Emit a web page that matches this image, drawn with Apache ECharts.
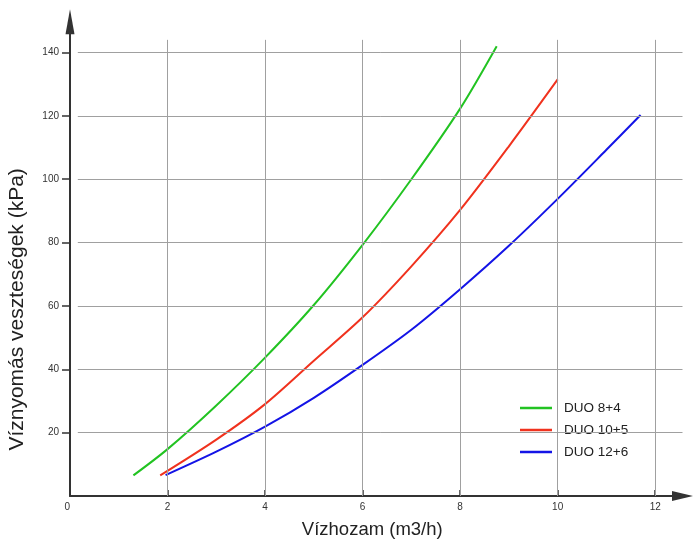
<!DOCTYPE html>
<html>
<head>
<meta charset="utf-8">
<script src="https://cdn.jsdelivr.net/npm/echarts@6/dist/echarts.min.js"></script>
<style>
  html, body { margin: 0; padding: 0; background: #fff; }
  #chart { width: 693px; height: 541px; }
</style>
</head>
<body>
<div id="chart"></div>
<script>
// flow (m3/h) / pressure loss (kPa) pairs
const duo8x4 = [[1.3, 6.5], [2, 14.8], [3, 28.6], [4, 43.7], [5, 60.3], [6, 79.3], [7, 100], [8, 122.3], [8.75, 142]];
const duo10x5 = [[1.85, 6.5], [3, 17.8], [4, 29], [5, 42.7], [6, 56.4], [7, 72.5], [8, 90.3], [9, 110.4], [10, 131.5]];
const duo12x6 = [[1.96, 6.6], [3, 14], [4, 21.9], [5, 31], [6, 41.4], [7, 52.5], [8, 65.3], [9, 79], [10, 93.8], [11, 109.3], [11.7, 120.3]];
const seriesNames = ['DUO 8+4', 'DUO 10+5', 'DUO 12+6'];
const seriesColors = ['#22c322', '#f0321e', '#1414e6'];
const xTicks = [2, 4, 6, 8, 10, 12];
const yTicks = [20, 40, 60, 80, 100, 120, 140];

const font = 'Liberation Sans, Arial, sans-serif';
const gridColor = '#a0a0a0';

// grid lines (they stop short of the axes in the original)
let gridLines = [];
xTicks.forEach(function (v) {
    gridLines.push([{coord: [v, 0]}, {coord: [v, 144]}]);
});
yTicks.forEach(function (v) {
    gridLines.push([{coord: [0.16, v]}, {coord: [12.56, v]}]);
});

let curves = [duo8x4, duo10x5, duo12x6].map(function (d, i) {
    return {
        name: seriesNames[i],
        type: 'line',
        smooth: 0.3,
        showSymbol: false,
        data: d,
        lineStyle: {width: 2, color: seriesColors[i]},
        itemStyle: {color: seriesColors[i]}
    };
});

let myChart = echarts.init(document.getElementById('chart'));
myChart.setOption({
    animation: false,
    grid: {left: 70, right: 10.5, top: 21.8, bottom: 45, containLabel: false, outerBoundsMode: 'none'},
    xAxis: {
        type: 'value',
        min: 0,
        max: 12.56,
        interval: 2,
        name: 'Vízhozam (m3/h)',
        nameLocation: 'middle',
        nameGap: 24,
        nameTextStyle: {fontFamily: font, fontSize: 18.5, color: '#222', padding: [0, 8, 0, 0]},
        axisLine: {symbol: ['none', 'triangle'], symbolSize: [10, 21], lineStyle: {color: '#333', width: 2}},
        axisTick: {inside: true, length: 6, lineStyle: {color: '#333', width: 1.5}},
        axisLabel: {fontFamily: font, fontSize: 10, color: '#333', margin: 6, showMaxLabel: false, alignMinLabel: 'right'},
        splitLine: {show: false}
    },
    yAxis: {
        type: 'value',
        min: 0,
        max: 149.7,
        interval: 20,
        name: 'Víznyomás veszteségek (kPa)',
        nameLocation: 'middle',
        nameGap: 42,
        nameTextStyle: {fontFamily: font, fontSize: 21, color: '#222', padding: [0, 101, 0, 0]},
        axisLine: {symbol: ['none', 'triangle'], symbolSize: [9, 25], lineStyle: {color: '#333', width: 2}},
        axisTick: {length: 8, lineStyle: {color: '#333', width: 1.5}},
        axisLabel: {fontFamily: font, fontSize: 10, color: '#333', margin: 11, showMinLabel: false, showMaxLabel: false},
        splitLine: {show: false}
    },
    legend: {
        orient: 'vertical',
        left: 513,
        top: 384,
        padding: [16, 5, 17, 7],
        backgroundColor: '#fff',
        icon: 'rect',
        itemWidth: 32,
        itemHeight: 2.5,
        itemGap: 6,
        textStyle: {fontFamily: font, fontSize: 13.5, color: '#222', lineHeight: 16, padding: [0, 0, 0, 7]},
        data: seriesNames
    },
    series: [
        {
            type: 'line',
            data: [],
            silent: true,
            markLine: {
                silent: true,
                symbol: 'none',
                label: {show: false},
                lineStyle: {color: gridColor, width: 1, type: 'solid'},
                data: gridLines
            }
        }
    ].concat(curves)
});
</script>
</body>
</html>
